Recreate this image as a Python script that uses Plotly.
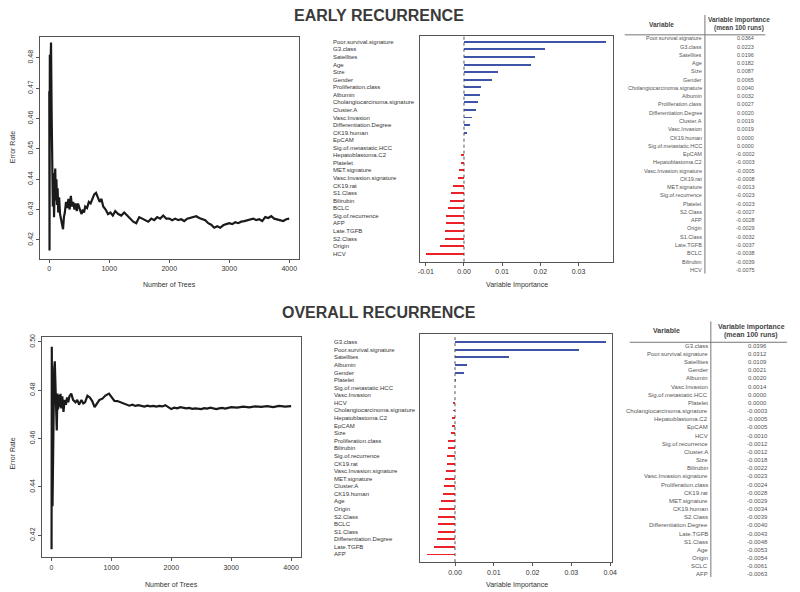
import plotly.graph_objects as go

# ---------------- DATA ----------------
early_trees = [1, 5, 10, 15, 20, 30, 40, 50, 60, 70, 80, 90, 100, 110, 120, 130, 140, 150, 165, 180,
               200, 215, 230, 245, 260, 280, 300, 320, 340, 360, 380, 400, 420, 440, 460, 480, 500, 520,
               540, 560, 580, 600, 630, 660, 690, 720, 750, 780, 810, 840, 870, 900, 940, 980, 1020, 1060,
               1100, 1150, 1200, 1250, 1300, 1350, 1400, 1450, 1500, 1550, 1600, 1650, 1700, 1750, 1800,
               1850, 1900, 1950, 2000, 2050, 2100, 2150, 2200, 2250, 2300, 2350, 2400, 2450, 2500, 2550,
               2600, 2650, 2700, 2750, 2800, 2850, 2900, 2950, 3000, 3050, 3100, 3150, 3200, 3250, 3300,
               3350, 3400, 3450, 3500, 3550, 3600, 3650, 3700, 3750, 3800, 3850, 3900, 3950, 4000]
early_error = [0.469, 0.4165, 0.481, 0.472, 0.4805, 0.485, 0.462, 0.440, 0.431, 0.442, 0.4275, 0.436,
               0.4435, 0.433, 0.440, 0.4315, 0.437, 0.429, 0.434, 0.4285, 0.4265, 0.4245, 0.4235, 0.4275,
               0.429, 0.4325, 0.4305, 0.4335, 0.4300, 0.4345, 0.4310, 0.4325, 0.4300, 0.4320, 0.4295,
               0.4320, 0.4305, 0.4295, 0.4285, 0.4300, 0.4290, 0.4310, 0.4305, 0.4325, 0.4320, 0.4335,
               0.4350, 0.4355, 0.4340, 0.4325, 0.4335, 0.4310, 0.4300, 0.4285, 0.4290, 0.4280, 0.4295,
               0.4285, 0.4280, 0.4290, 0.4280, 0.4270, 0.4260, 0.4255, 0.4275, 0.4270, 0.4265, 0.4260,
               0.4270, 0.4265, 0.4275, 0.4270, 0.4280, 0.4270, 0.4270, 0.4265, 0.4270, 0.4265, 0.4268,
               0.4262, 0.4270, 0.4272, 0.4275, 0.4278, 0.4272, 0.4268, 0.4265, 0.4255, 0.4250, 0.4240,
               0.4245, 0.4240, 0.4248, 0.4252, 0.4255, 0.4252, 0.4258, 0.4255, 0.4260, 0.4262, 0.4265,
               0.4268, 0.4270, 0.4265, 0.4268, 0.4262, 0.4275, 0.4272, 0.4278, 0.4270, 0.4268, 0.4265,
               0.4262, 0.4268, 0.4270]

overall_trees = [1, 5, 10, 17, 25, 35, 45, 55, 65, 75, 88, 100, 110, 120, 135, 150, 165, 180, 200, 220,
                 240, 260, 280, 300, 330, 360, 400, 430, 460, 500, 530, 560, 600, 640, 680, 720, 760, 800,
                 850, 900, 960, 1000, 1050, 1100, 1150, 1200, 1250, 1300, 1350, 1400, 1450, 1500, 1550,
                 1600, 1650, 1700, 1750, 1800, 1850, 1900, 1950, 2000, 2050, 2100, 2150, 2200, 2250, 2300,
                 2350, 2400, 2450, 2500, 2550, 2600, 2650, 2700, 2750, 2800, 2850, 2900, 2950, 3000, 3100,
                 3200, 3300, 3400, 3500, 3600, 3700, 3800, 3900, 4000]
overall_error = [0.4142, 0.4980, 0.470, 0.432, 0.455, 0.478, 0.489, 0.4920, 0.480, 0.470, 0.4633, 0.4786,
                 0.4720, 0.4780, 0.4730, 0.4785, 0.4725, 0.4775, 0.4710, 0.4760, 0.4740, 0.4770, 0.4750,
                 0.4775, 0.4786, 0.4760, 0.4750, 0.4760, 0.4740, 0.4760, 0.4745, 0.4750, 0.4777, 0.4770,
                 0.4755, 0.4730, 0.4745, 0.4760, 0.4765, 0.4778, 0.4786, 0.4770, 0.4756, 0.4755, 0.4750,
                 0.4745, 0.4742, 0.4736, 0.4740, 0.4735, 0.4738, 0.4735, 0.4732, 0.4736, 0.4733, 0.4735,
                 0.4732, 0.4735, 0.4733, 0.4738, 0.4730, 0.4722, 0.4728, 0.4725, 0.4730, 0.4728, 0.4725,
                 0.4727, 0.4723, 0.4725, 0.4724, 0.4722, 0.4726, 0.4724, 0.4728, 0.4725, 0.4722, 0.4725,
                 0.4727, 0.4724, 0.4728, 0.4730, 0.4728, 0.4732, 0.4729, 0.4733, 0.4731, 0.4734, 0.4730,
                 0.4735, 0.4732, 0.4734]

early_bar_vars = ["Poor.survival.signature", "G3.class", "Satellites", "Age", "Size", "Gender",
                  "Proliferation.class", "Albumin", "Cholangiocarcinoma.signature", "Cluster.A",
                  "Vasc.Invasion", "Differentiation.Degree", "CK19.human", "EpCAM", "Sig.of.metastatic.HCC",
                  "Hepatoblastoma.C2", "Platelet", "MET.signature", "Vasc.Invasion.signature", "CK19.rat",
                  "S1.Class", "Bilirubin", "BCLC", "Sig.of.recurrence", "AFP", "Late.TGFB", "S2.Class",
                  "Origin", "HCV"]
early_bar_vals = [0.0371, 0.0213, 0.0186, 0.0175, 0.0089, 0.0074, 0.0045, 0.0042, 0.0038, 0.0032,
                  0.0022, 0.0016, 0.0008, 0.0001, 0.0001, -0.0009, -0.0008, -0.0014, -0.0016, -0.0029,
                  -0.0035, -0.0036, -0.0043, -0.0046, -0.0046, -0.0049, -0.0050, -0.0063, -0.0100]

overall_bar_vars = ["G3.class", "Poor.survival.signature", "Satellites", "Albumin", "Gender", "Platelet",
                    "Sig.of.metastatic.HCC", "Vasc.Invasion", "HCV", "Cholangiocarcinoma.signature",
                    "Hepatoblastoma.C2", "EpCAM", "Size", "Proliferation.class", "Bilirubin",
                    "Sig.of.recurrence", "CK19.rat", "Vasc.Invasion.signature", "MET.signature", "Cluster.A",
                    "CK19.human", "Age", "Origin", "S2.Class", "BCLC", "S1.Class", "Differentiation.Degree",
                    "Late.TGFB", "AFP"]
overall_bar_vals = [0.0389, 0.0320, 0.0140, 0.0030, 0.0024, 0.0002, 0.0001, -0.0001, -0.0005, -0.0006,
                    -0.0007, -0.0008, -0.0010, -0.0017, -0.0017, -0.0020, -0.0021, -0.0024, -0.0025,
                    -0.0029, -0.0030, -0.0036, -0.0041, -0.0043, -0.0044, -0.0045, -0.0047, -0.0053, -0.0072]

early_tab_vars = ["Poor.survival.signature", "G3.class", "Satellites", "Age", "Size", "Gender",
                  "Cholangiocarcinoma.signature", "Albumin", "Proliferation.class", "Differentiation.Degree",
                  "Cluster.A", "Vasc.Invasion", "CK19.human", "Sig.of.metastatic.HCC", "EpCAM",
                  "Hepatoblastoma.C2", "Vasc.Invasion.signature", "CK19.rat", "MET.signature",
                  "Sig.of.recurrence", "Platelet", "S2.Class", "AFP", "Origin", "S1.Class", "Late.TGFB",
                  "BCLC", "Bilirubin", "HCV"]
early_tab_vals = ["0.0364", "0.0223", "0.0196", "0.0182", "0.0087", "0.0065", "0.0040", "0.0032", "0.0027",
                  "0.0020", "0.0019", "0.0019", "0.0000", "0.0000", "-0.0002", "-0.0003", "-0.0005",
                  "-0.0008", "-0.0013", "-0.0023", "-0.0023", "-0.0027", "-0.0028", "-0.0029", "-0.0032",
                  "-0.0037", "-0.0038", "-0.0039", "-0.0075"]

overall_tab_vars = ["G3.class", "Poor.survival.signature", "Satellites", "Gender", "Albumin", "Vasc.Invasion",
                    "Sig.of.metastatic.HCC", "Platelet", "Cholangiocarcinoma.signature", "Hepatoblastoma.C2",
                    "EpCAM", "HCV", "Sig.of.recurrence", "Cluster.A", "Size", "Bilirubin",
                    "Vasc.Invasion.signature", "Proliferation.class", "CK19.rat", "MET.signature",
                    "CK19.human", "S2.Class", "Differentiation.Degree", "Late.TGFB", "S1.Class", "Age",
                    "Origin", "SCLC", "AFP"]
overall_tab_vals = ["0.0396", "0.0312", "0.0109", "0.0021", "0.0020", "0.0014", "0.0000", "0.0000", "-0.0003",
                    "-0.0005", "-0.0005", "-0.0010", "-0.0012", "-0.0012", "-0.0018", "-0.0022", "-0.0023",
                    "-0.0024", "-0.0028", "-0.0029", "-0.0034", "-0.0039", "-0.0040", "-0.0043", "-0.0048",
                    "-0.0053", "-0.0054", "-0.0061", "-0.0063"]

early_err_ticks = [0.42, 0.43, 0.44, 0.45, 0.46, 0.47, 0.48]
overall_err_ticks = [0.42, 0.44, 0.46, 0.48, 0.50]
tree_ticks = [0, 1000, 2000, 3000, 4000]
early_imp_ticks = [-0.01, 0.00, 0.01, 0.02, 0.03]
overall_imp_ticks = [0.00, 0.01, 0.02, 0.03, 0.04]

# ---------------- LAYOUT HELPERS ----------------
W, H = 800, 592
FONT = "Liberation Sans"
TXT = "#333333"
BLUE = "#3f54a6"
RED = "#ec2229"


def px(p):
    return p / W


def py(p):
    return 1 - p / H


fig = go.Figure()
annotations = []
shapes = []


def ann(x, y, text, size=7, anchor="center", color=TXT, bold=False, angle=0, yanchor="middle"):
    if bold:
        text = "<b>" + text + "</b>"
    annotations.append(dict(x=px(x), y=py(y), xref="paper", yref="paper", text=text, showarrow=False,
                            xanchor=anchor, yanchor=yanchor, textangle=angle, borderpad=0,
                            font=dict(family=FONT, size=size, color=color)))


def line(x0, y0, x1, y1, color="#555555", width=1):
    shapes.append(dict(type="line", xref="paper", yref="paper", x0=px(x0), y0=py(y0), x1=px(x1), y1=py(y1),
                       line=dict(color=color, width=width)))


axis_common = dict(showgrid=False, zeroline=False, showline=True, mirror=True, linecolor="#555555",
                   linewidth=1, ticks="outside", ticklen=3, tickcolor="#555555",
                   tickfont=dict(family=FONT, size=7, color=TXT))

# ---------- error-rate panels ----------
fig.add_trace(go.Scatter(x=early_trees, y=early_error, mode="lines", line=dict(color="#1a1a1a", width=2.2),
                         xaxis="x", yaxis="y", showlegend=False))
fig.add_trace(go.Scatter(x=overall_trees, y=overall_error, mode="lines", line=dict(color="#1a1a1a", width=2.2),
                         xaxis="x3", yaxis="y3", showlegend=False))


# ---------- importance bars ----------
def bars(vals, xa, ya):
    cols = [BLUE if v > 0 else RED for v in vals]
    fig.add_trace(go.Bar(x=vals, y=list(range(len(vals))), orientation="h", width=0.26,
                         marker=dict(color=cols, line=dict(width=0)), xaxis=xa, yaxis=ya, showlegend=False))


bars(early_bar_vals, "x2", "y2")
bars(overall_bar_vals, "x4", "y4")

layout_axes = dict(
    xaxis=dict(axis_common, domain=[px(37), px(299)], range=[-160, 4163], tickvals=tree_ticks,
               anchor="y"),
    yaxis=dict(axis_common, domain=[py(257), py(34)], range=[0.4138, 0.4869], tickvals=early_err_ticks,
               ticktext=[f"{t:.2f}" for t in early_err_ticks], tickangle=-90, anchor="x"),
    xaxis2=dict(axis_common, domain=[px(421.7), px(616)], range=[-0.0114, 0.039], tickvals=early_imp_ticks,
                ticktext=[f"{t:.2f}" for t in early_imp_ticks], anchor="y2"),
    yaxis2=dict(showgrid=False, zeroline=False, showline=True, mirror=True, linecolor="#555555",
                domain=[py(260), py(33)], range=[29.05, -0.79], showticklabels=False, ticks="", anchor="x2"),
    xaxis3=dict(axis_common, domain=[px(39), px(301)], range=[-165, 4165], tickvals=tree_ticks, anchor="y3"),
    yaxis3=dict(axis_common, domain=[py(557), py(336)], range=[0.4109, 0.5019], tickvals=overall_err_ticks,
                ticktext=[f"{t:.2f}" for t in overall_err_ticks], tickangle=-90, anchor="x3"),
    xaxis4=dict(axis_common, domain=[px(421.7), px(615.3)], range=[-0.0089, 0.0405],
                tickvals=overall_imp_ticks, ticktext=[f"{t:.2f}" for t in overall_imp_ticks], anchor="y4"),
    yaxis4=dict(showgrid=False, zeroline=False, showline=True, mirror=True, linecolor="#555555",
                domain=[py(562), py(333)], range=[29.01, -1.05], showticklabels=False, ticks="", anchor="x4"),
)

# zero reference lines
for xa, ya in (("x2", "y2"), ("x4", "y4")):
    shapes.append(dict(type="line", xref=xa, yref=ya + " domain", x0=0, x1=0, y0=0, y1=1,
                       line=dict(color="#555555", width=1, dash="dot")))

# bar labels (left aligned)
for i, name in enumerate(early_bar_vars):
    annotations.append(dict(x=px(332), xref="paper", y=i, yref="y2", text=name, showarrow=False,
                            xanchor="left", yanchor="middle", borderpad=0,
                            font=dict(family=FONT, size=6, color=TXT)))
for i, name in enumerate(overall_bar_vars):
    annotations.append(dict(x=px(333), xref="paper", y=i, yref="y4", text=name, showarrow=False,
                            xanchor="left", yanchor="middle", borderpad=0,
                            font=dict(family=FONT, size=6, color=TXT)))

# titles
ann(380, 13, "EARLY RECURRENCE", size=16, bold=True, color="#3a3a3a")
ann(380, 311, "OVERALL RECURRENCE", size=16, bold=True, color="#3a3a3a")

# axis titles
ann(168, 283, "Number of Trees", size=7)
ann(9, 145, "Error Rate", size=7, angle=-90)
ann(170, 584, "Number of Trees", size=7)
ann(10, 453, "Error Rate", size=7, angle=-90)
ann(519, 283, "Variable Importance", size=7)
ann(519, 585, "Variable Importance", size=7)


# ---------- tables ----------
def table(vars_, vals, vline_x, vtop, vbot, hline_y, hx0, hx1, head_y, var_x, head_x, imp_x, row0, step,
          fs, hfs):
    line(vline_x, vtop, vline_x, vbot, color="#777777", width=1)
    line(hx0, hline_y, hx1, hline_y, color="#777777", width=1)
    ann(var_x, head_y, "Variable", size=hfs, bold=True, color="#444444")
    ann(head_x, head_y - 4.3, "Variable importance", size=hfs, bold=True, color="#444444")
    ann(head_x, head_y + 3.7, "(mean 100 runs)", size=hfs, bold=True, color="#444444")
    for i, (n, v) in enumerate(zip(vars_, vals)):
        ann(vline_x - 1.5, row0 + i * step, n, size=fs, anchor="right", color="#555555")
        ann(imp_x, row0 + i * step, v, size=fs, color="#555555")


table(early_tab_vars, early_tab_vals, vline_x=709, vtop=12, vbot=272, hline_y=32, hx0=628, hx1=770,
      head_y=21.5, var_x=665, head_x=743, imp_x=750, row0=35.5, step=8.31, fs=5.5, hfs=6.5)
table(overall_tab_vars, overall_tab_vals, vline_x=715, vtop=320, vbot=577, hline_y=341, hx0=633, hx1=792,
      head_y=329.5, var_x=670, head_x=756, imp_x=762, row0=344.5, step=8.21, fs=6, hfs=7)

fig.update_layout(width=W, height=H, margin=dict(l=0, r=0, t=0, b=0), paper_bgcolor="white",
                  plot_bgcolor="white", bargap=0, showlegend=False, annotations=annotations, shapes=shapes,
                  hovermode=False, **layout_axes)

fig.write_html("out.html", config={"displayModeBar": False, "staticPlot": True},
               post_script="document.body.style.margin='0px';")
